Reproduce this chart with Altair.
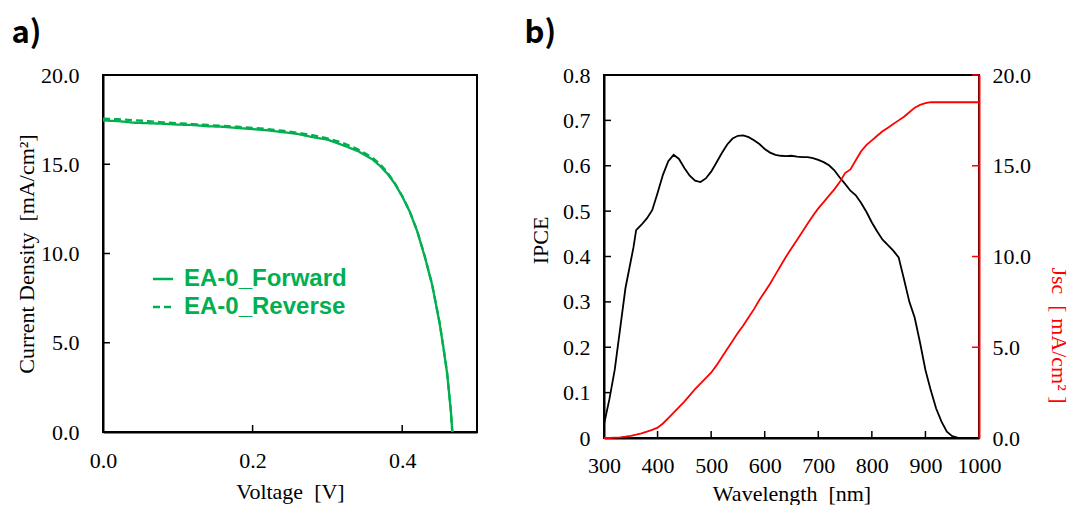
import altair as alt
import pandas as pd

GREEN = "#00B050"

# ---------------- panel a) J-V data ----------------
v_fwd = [0.00, 0.02, 0.04, 0.06, 0.08, 0.10, 0.12, 0.14, 0.16, 0.18, 0.20, 0.22, 0.24, 0.26,
         0.28, 0.30, 0.32, 0.34, 0.36, 0.37, 0.38, 0.39, 0.40, 0.41, 0.42, 0.43, 0.44, 0.45,
         0.455, 0.46, 0.465, 0.467]
j_fwd = [17.45, 17.42, 17.33, 17.30, 17.27, 17.22, 17.20, 17.13, 17.10, 17.03, 16.97, 16.90, 16.80, 16.70,
         16.52, 16.38, 16.08, 15.75, 15.28, 14.92, 14.48, 13.92, 13.20, 12.35, 11.25, 9.85, 8.25, 6.10,
         4.75, 3.30, 1.20, 0.00]
v_rev = [0.00, 0.02, 0.04, 0.06, 0.08, 0.10, 0.12, 0.14, 0.16, 0.18, 0.20, 0.22, 0.24, 0.26,
         0.28, 0.30, 0.32, 0.34, 0.36, 0.37, 0.38, 0.39, 0.40, 0.41, 0.42, 0.43, 0.44, 0.45,
         0.455, 0.46, 0.465, 0.467]
j_rev = [17.55, 17.52, 17.47, 17.42, 17.35, 17.30, 17.25, 17.20, 17.15, 17.10, 17.04, 16.97, 16.88, 16.77,
         16.63, 16.45, 16.20, 15.85, 15.38, 15.02, 14.55, 13.95, 13.22, 12.37, 11.27, 9.87, 8.27, 6.12,
         4.77, 3.32, 1.22, 0.00]
scan_names = ["EA-0_Forward", "EA-0_Reverse"]

# ---------------- panel b) IPCE / Jsc data ----------------
wl_ipce = [300, 310, 320, 330, 340, 350, 355, 360, 370, 380, 390, 400, 410, 420, 430, 440, 450, 460,
           470, 480, 490, 500, 510, 520, 530, 540, 550, 560, 570, 580, 590, 600, 610, 620, 630, 640,
           650, 660, 670, 680, 690, 700, 710, 720, 730, 740, 750, 760, 770, 780, 790, 800, 810, 820,
           830, 840, 850, 860, 870, 880, 890, 900, 910, 920, 930, 940, 950, 960, 970, 980]
ipce = [0.030, 0.085, 0.150, 0.240, 0.330, 0.390, 0.420, 0.458, 0.470, 0.484, 0.502, 0.540, 0.580,
        0.610, 0.624, 0.615, 0.595, 0.578, 0.567, 0.564, 0.572, 0.587, 0.607, 0.628, 0.647, 0.660,
        0.666, 0.667, 0.663, 0.656, 0.648, 0.637, 0.629, 0.624, 0.622, 0.621, 0.622, 0.620, 0.619,
        0.619, 0.617, 0.613, 0.608, 0.601, 0.590, 0.574, 0.560, 0.545, 0.535, 0.518, 0.498, 0.475,
        0.455, 0.437, 0.425, 0.413, 0.398, 0.350, 0.300, 0.265, 0.210, 0.150, 0.105, 0.065, 0.036,
        0.014, 0.004, 0.001, 0.000, 0.000]
wl_jsc = [300, 310, 320, 330, 340, 350, 360, 370, 380, 390, 400, 410, 420, 430, 440, 450, 460, 470,
          480, 490, 500, 510, 520, 530, 540, 550, 560, 570, 580, 590, 600, 610, 620, 630, 640, 650,
          660, 670, 680, 690, 700, 710, 720, 730, 740, 750, 760, 770, 780, 790, 800, 810, 820, 830,
          840, 850, 860, 870, 880, 890, 900, 910, 920, 940, 960, 980, 1000]
jsc = [0.00, 0.00, 0.02, 0.04, 0.07, 0.12, 0.18, 0.26, 0.35, 0.45, 0.57, 0.80, 1.10, 1.40, 1.70, 2.00,
       2.35, 2.70, 3.00, 3.30, 3.60, 4.00, 4.45, 4.90, 5.35, 5.80, 6.20, 6.65, 7.10, 7.60, 8.05, 8.50,
       9.00, 9.50, 10.00, 10.45, 10.90, 11.35, 11.80, 12.25, 12.65, 13.00, 13.35, 13.70, 14.10, 14.60,
       14.80, 15.30, 15.80, 16.15, 16.40, 16.65, 16.90, 17.10, 17.30, 17.50, 17.70, 17.95, 18.20,
       18.35, 18.45, 18.50, 18.50, 18.50, 18.50, 18.50, 18.50]

# tick values
iv_x_ticks = [0.0, 0.2, 0.4]
iv_y_ticks = [0.0, 5.0, 10.0, 15.0, 20.0]
wl_ticks = [300, 400, 500, 600, 700, 800, 900, 1000]
ipce_ticks = [0.0, 0.1, 0.2, 0.3, 0.4, 0.5, 0.6, 0.7, 0.8]
jsc_ticks = [0.0, 5.0, 10.0, 15.0, 20.0]

iv_df = pd.concat([
    pd.DataFrame({"V": v_fwd, "J": j_fwd, "Scan": scan_names[0]}),
    pd.DataFrame({"V": v_rev, "J": j_rev, "Scan": scan_names[1]}),
])
ipce_df = pd.DataFrame({"Wavelength": wl_ipce, "IPCE": ipce})
jsc_df = pd.DataFrame({"Wavelength": wl_jsc, "Jsc": jsc})

LW, LH = 374, 357
RW, RH = 375, 363
TICK = 7

xs_iv = alt.Scale(domain=[0, 0.5], nice=False, zero=False)
ys_iv = alt.Scale(domain=[0, 20], nice=False)

iv_lines = alt.Chart(iv_df).mark_line(strokeWidth=2.3, color=GREEN).encode(
    x=alt.X("V:Q", scale=xs_iv,
            axis=alt.Axis(values=iv_x_ticks, format=".1f", title="Voltage\u2002[V]", tickSize=0,
                          labelFlush=False, labelPadding=18, titlePadding=10)),
    y=alt.Y("J:Q", scale=ys_iv,
            axis=alt.Axis(values=iv_y_ticks, format=".1f", title="Current Density\u2002[mA/cm²]",
                          tickSize=0, labelFlush=False, labelPadding=24, titlePadding=2)),
    strokeDash=alt.StrokeDash(
        "Scan:N",
        scale=alt.Scale(domain=scan_names, range=[[1, 0], [7, 4]]),
        legend=alt.Legend(orient="none", legendX=48, legendY=192, title=None,
                          symbolType="stroke", symbolSize=400, symbolStrokeWidth=2.5,
                          symbolStrokeColor=GREEN, labelColor=GREEN, labelFont="Liberation Sans",
                          labelFontSize=24, labelFontWeight="bold", labelOffset=9, rowPadding=4,
                          labelLimit=400, symbolDash=[5, 5])),
)

iv_xt = alt.Chart(pd.DataFrame({"V": [0.2, 0.4]})).mark_rule(color="black", strokeWidth=1.5).encode(
    x=alt.X("V:Q", scale=xs_iv), y=alt.value(LH), y2=alt.value(LH - TICK))
iv_yt = alt.Chart(pd.DataFrame({"J": [5.0, 10.0, 15.0]})).mark_rule(color="black", strokeWidth=1.5).encode(
    y=alt.Y("J:Q", scale=ys_iv), x=alt.value(0), x2=alt.value(TICK))

left = alt.layer(iv_xt, iv_yt, iv_lines).properties(
    width=LW, height=LH,
    title=alt.TitleParams("a)", anchor="start", font="Noto Sans CJK JP", fontSize=31,
                          fontWeight="bold", offset=14, dx=-4),
)

xs_wl = alt.Scale(domain=[300, 1000], nice=False, zero=False)
ys_ipce = alt.Scale(domain=[0, 0.8], nice=False)
ys_jsc = alt.Scale(domain=[0, 20], nice=False)

wl_axis = alt.Axis(values=wl_ticks, title="Wavelength\u2002[nm]", tickSize=0, format="d",
                   labelFlush=False, labelPadding=17, titlePadding=7)

ipce_line = alt.Chart(ipce_df).mark_line(color="black", strokeWidth=1.8).encode(
    x=alt.X("Wavelength:Q", scale=xs_wl, axis=wl_axis),
    y=alt.Y("IPCE:Q", scale=ys_ipce,
            axis=alt.Axis(values=ipce_ticks, title="IPCE", tickSize=0, labelPadding=14,
                          labelFlush=False, titlePadding=10, titleY=165,
                          labelExpr="datum.value == 0 ? '0' : format(datum.value, '.1f')")),
)
wl_t = alt.Chart(pd.DataFrame({"Wavelength": [400, 500, 600, 700, 800, 900]})).mark_rule(
    color="black", strokeWidth=1.5).encode(
    x=alt.X("Wavelength:Q", scale=xs_wl, axis=wl_axis), y=alt.value(RH), y2=alt.value(RH - TICK))
ipce_t = alt.Chart(pd.DataFrame({"IPCE": [0.1, 0.2, 0.3, 0.4, 0.5, 0.6, 0.7]})).mark_rule(
    color="black", strokeWidth=1.5).encode(
    y=alt.Y("IPCE:Q", scale=ys_ipce), x=alt.value(0), x2=alt.value(TICK))

jsc_line = alt.Chart(jsc_df).mark_line(color="#FF0000", strokeWidth=1.8).encode(
    x=alt.X("Wavelength:Q", scale=xs_wl, axis=wl_axis),
    y=alt.Y("Jsc:Q", scale=ys_jsc,
            axis=alt.Axis(orient="right", values=jsc_ticks, format=".1f",
                          title="Jsc\u2002[ mA/cm² ]", titleColor="#FF0000",
                          domainColor="#FF0000", tickSize=0, labelPadding=13, titlePadding=16,
                          labelFlush=False, titleY=260)),
)
jsc_t = alt.Chart(pd.DataFrame({"Jsc": [5.0, 10.0, 15.0, 20.0]})).mark_rule(
    color="#FF0000", strokeWidth=1.5).encode(
    y=alt.Y("Jsc:Q", scale=ys_jsc), x=alt.value(RW), x2=alt.value(RW - TICK))

right = alt.layer(
    alt.layer(wl_t, ipce_t, ipce_line),
    alt.layer(jsc_line, jsc_t),
).resolve_scale(y="independent").properties(
    width=RW, height=RH,
    title=alt.TitleParams("b)", anchor="start", font="Noto Sans CJK JP", fontSize=31,
                          fontWeight="bold", offset=14, dx=-5),
)

chart = alt.hconcat(left, right, spacing=45).properties(
    padding={"left": 10, "top": 17, "right": 0, "bottom": 0},
    background="white",
).configure_view(stroke="black", strokeWidth=2).configure_axis(
    domainColor="black", domainWidth=2, grid=False,
    labelFont="Liberation Serif", labelFontSize=22, labelColor="black",
    titleFont="Liberation Serif", titleFontSize=22, titleFontWeight="normal", titleColor="black",
).configure_title(color="black")

chart.save("out.html", embed_options={"renderer": "svg", "actions": False})
